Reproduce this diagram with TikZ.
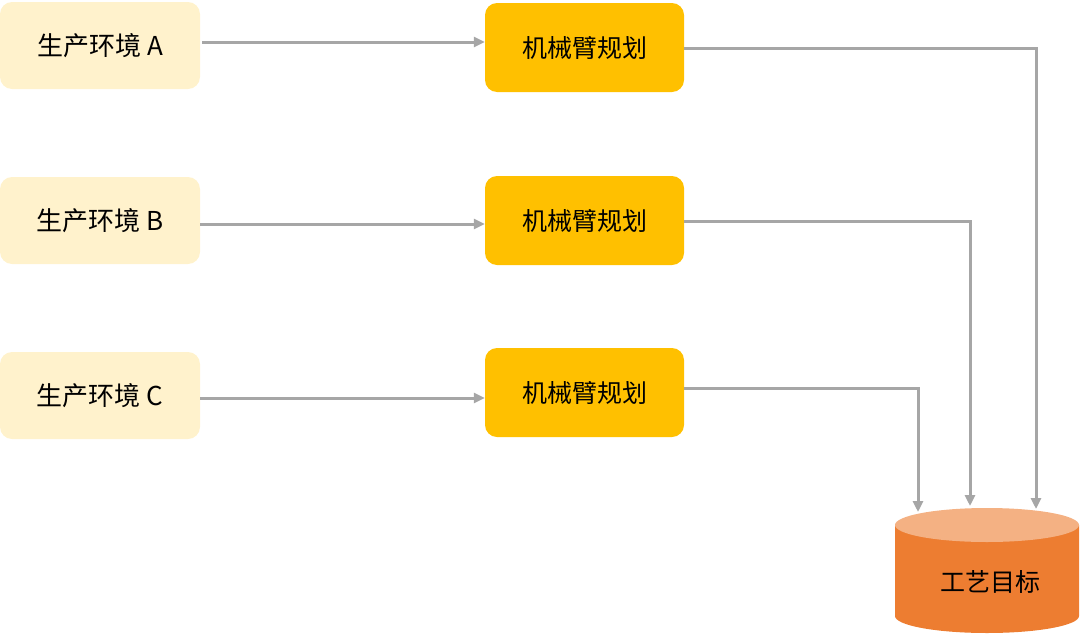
\documentclass[tikz,border=0pt]{standalone}
\usepackage{fontspec}
\setmainfont{Noto Sans CJK SC}
\usetikzlibrary{arrows.meta}
\definecolor{envfill}{HTML}{FFF2CC}
\definecolor{planfill}{HTML}{FFC000}
\definecolor{cylbody}{HTML}{ED7D31}
\definecolor{cyltop}{HTML}{F4B183}
\definecolor{arrgray}{HTML}{A6A6A6}
\tikzset{
  envbox/.style={rectangle, rounded corners=12pt, fill=envfill, minimum width=200pt, minimum height=87pt, inner sep=0pt, font=\fontsize{26pt}{30pt}\selectfont},
  planbox/.style={rectangle, rounded corners=12pt, fill=planfill, minimum width=199pt, minimum height=89pt, inner sep=0pt, font=\fontsize{25pt}{30pt}\selectfont},
  arr/.style={draw=arrgray, line width=3pt, -{Triangle[length=11pt,width=10pt]}},
  lbl/.style={inner sep=0pt, font=\fontsize{25pt}{30pt}\selectfont}
}
\begin{document}
\begin{tikzpicture}[x=1pt,y=-1pt]
\useasboundingbox (0,0) rectangle (1080,635);
% left environment boxes
\node[envbox] (LA) at (100,45.5) {生产环境 A};
\node[envbox] (LB) at (100,220.5) {生产环境 B};
\node[envbox] (LC) at (100,395.5) {生产环境 C};
% middle planning boxes
\node[planbox] (MA) at (584.5,47.5) {机械臂规划};
\node[planbox] (MB) at (584.5,220.5) {机械臂规划};
\node[planbox] (MC) at (584.5,392.5) {机械臂规划};
% cylinder
\fill[cylbody] (895,525) -- (895,616) arc[start angle=180,end angle=0,x radius=92,y radius=17] -- (1079,525) -- cycle;
\fill[cyltop] (987,525) ellipse[x radius=92, y radius=17];
\node[lbl] (T) at (990,582) {工艺目标};
% target coordinates
\coordinate (TA) at (1036,509);
\coordinate (TB) at (970,506);
\coordinate (TC) at (918,512);
% arrows left -> middle
\draw[arr] ([xshift=2pt,yshift=3.5pt]LA.east) -- ([yshift=5.5pt]MA.west);
\draw[arr] ([yshift=-3.5pt]LB.east) -- ([yshift=-3.5pt]MB.west);
\draw[arr] ([yshift=-2.5pt]LC.east) -- ([yshift=-5.5pt]MC.west);
% arrows middle -> target
\draw[arr] ([yshift=-0.5pt]MA.east) -| (TA);
\draw[arr] ([yshift=-0.5pt]MB.east) -| (TB);
\draw[arr] ([yshift=4.5pt]MC.east) -| (TC);
\end{tikzpicture}
\end{document}
